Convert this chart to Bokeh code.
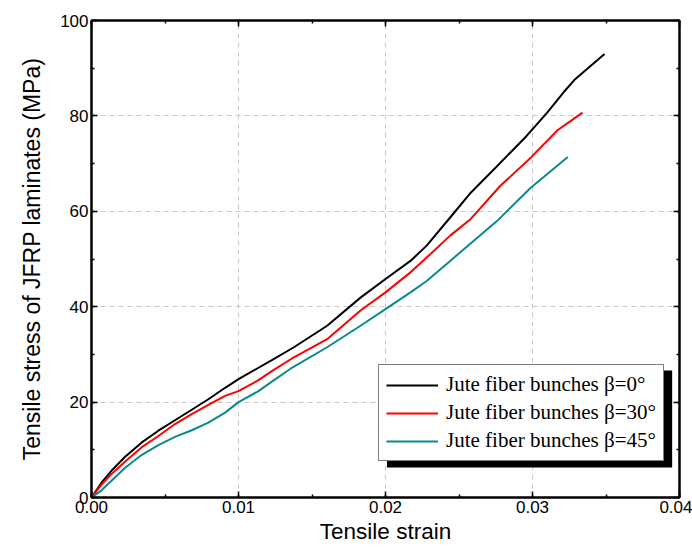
from bokeh.plotting import figure
from bokeh.models import (LinearAxis, SingleIntervalTicker, NumeralTickFormatter,
                          CustomJSTickFormatter, Legend, LegendItem, BoxAnnotation, Range1d)
from bokeh.embed import file_html
from bokeh.resources import INLINE

# Data
strain_0 = [0, 0.00068, 0.00136, 0.00227, 0.0034, 0.00455, 0.00568, 0.00682, 0.00795, 0.00909,
            0.0100, 0.01136, 0.01227, 0.01377, 0.01603, 0.0183, 0.0200, 0.0217, 0.0228, 0.0244,
            0.0258, 0.0276, 0.0296, 0.0310, 0.0321, 0.0329, 0.0349]
stress_0 = [0, 3.1, 5.6, 8.5, 11.5, 14.0, 16.2, 18.4, 20.6, 23.0,
            24.8, 27.2, 28.8, 31.5, 36.0, 41.9, 45.8, 49.6, 52.8, 58.7,
            63.9, 69.5, 75.8, 80.7, 84.9, 87.7, 93.0]

strain_30 = [0, 0.00068, 0.00136, 0.00227, 0.0034, 0.00455, 0.00568, 0.00682, 0.00795, 0.00909,
             0.0100, 0.01136, 0.01227, 0.01377, 0.01603, 0.0183, 0.0200, 0.0217, 0.0228, 0.0244,
             0.0258, 0.0278, 0.0299, 0.0317, 0.0334]
stress_30 = [0, 2.7, 4.9, 7.5, 10.5, 12.9, 15.4, 17.5, 19.4, 21.3,
             22.3, 24.6, 26.5, 29.4, 33.2, 39.2, 43.0, 47.2, 50.3, 54.9,
             58.4, 65.3, 71.3, 77.0, 80.7]

strain_45 = [0, 0.00068, 0.00136, 0.00227, 0.0034, 0.00455, 0.00568, 0.00682, 0.00795, 0.00909,
             0.0100, 0.01136, 0.01227, 0.01354, 0.01603, 0.0183, 0.0200, 0.0217, 0.0228, 0.0244,
             0.0276, 0.0299, 0.0324]
stress_45 = [0, 1.5, 3.5, 6.2, 8.9, 11.0, 12.7, 14.1, 15.7, 17.8,
             20.0, 22.3, 24.3, 27.0, 31.5, 36.0, 39.5, 43.0, 45.4, 49.6,
             58.0, 65.0, 71.4]

labels = ["Jute fiber bunches \u03b2=0\u00b0",
          "Jute fiber bunches \u03b2=30\u00b0",
          "Jute fiber bunches \u03b2=45\u00b0"]
colors = ["#000000", "#ff0000", "#0a8a8a"]

x_ticks_interval = 0.01
y_ticks_interval = 20

p = figure(width=692, height=547, output_backend="svg", toolbar_location=None,
           x_range=Range1d(0, 0.04), y_range=Range1d(0, 100),
           min_border_left=91, min_border_right=13, min_border_top=20, min_border_bottom=50)
p.xaxis.visible = False
p.yaxis.visible = False

font = "Liberation Sans"

def style_axis(ax, labels_on):
    ax.major_tick_in = 6
    ax.major_tick_out = 0
    ax.minor_tick_in = 3
    ax.minor_tick_out = 0
    ax.axis_line_width = 2
    ax.major_tick_line_width = 1.5
    ax.minor_tick_line_width = 1.5
    ax.axis_line_color = "black"
    ax.major_tick_line_color = "black"
    ax.minor_tick_line_color = "black"
    ax.major_label_text_font = font
    ax.major_label_text_color = "black"
    ax.axis_label_text_font = font
    ax.axis_label_text_font_style = "normal"
    ax.axis_label_text_color = "black"
    ax.axis_label_text_font_size = "22.5px"
    ax.major_label_text_font_size = "17px"
    if labels_on:
        ax.major_label_standoff = 3
    else:
        ax.formatter = CustomJSTickFormatter(code="return ''")
        ax.major_label_standoff = 0

xt = SingleIntervalTicker(interval=x_ticks_interval, num_minor_ticks=2)
yt = SingleIntervalTicker(interval=y_ticks_interval, num_minor_ticks=2)

xb = LinearAxis(ticker=xt, formatter=NumeralTickFormatter(format="0.00"), axis_label="Tensile strain")
style_axis(xb, True)
xb.axis_label_standoff = 3
p.add_layout(xb, "below")

yl = LinearAxis(ticker=yt, axis_label="Tensile stress of JFRP laminates (MPa)")
style_axis(yl, True)
yl.axis_label_text_font_size = "23px"
yl.axis_label_standoff = 12
p.add_layout(yl, "left")

xa = LinearAxis(ticker=xt)
style_axis(xa, False)
p.add_layout(xa, "above")
yr = LinearAxis(ticker=yt)
style_axis(yr, False)
p.add_layout(yr, "right")

p.xgrid.ticker = xt
p.ygrid.ticker = yt
for g in (p.xgrid, p.ygrid):
    g.grid_line_color = "#c8c8c8"
    g.grid_line_dash = "5 4"
    g.grid_line_width = 1

p.outline_line_color = "black"
p.outline_line_width = 2
p.background_fill_color = "white"
p.border_fill_color = "white"

r0 = p.line(strain_0, stress_0, line_color=colors[0], line_width=2)
r1 = p.line(strain_30, stress_30, line_color=colors[1], line_width=2)
r2 = p.line(strain_45, stress_45, line_color=colors[2], line_width=2)

shadow = BoxAnnotation(left=0.0201, right=0.0395, bottom=6.3, top=26.6,
                       fill_color="black", fill_alpha=1, line_alpha=0)
p.add_layout(shadow)

legend = Legend(items=[LegendItem(label=labels[0], renderers=[r0]),
                       LegendItem(label=labels[1], renderers=[r1]),
                       LegendItem(label=labels[2], renderers=[r2])],
                location=(287, 36))
legend.label_text_font = "Liberation Serif"
legend.label_text_font_size = "21px"
legend.label_text_color = "black"
legend.glyph_width = 52
legend.glyph_height = 20
legend.label_height = 20
legend.label_standoff = 8
legend.spacing = 3
legend.padding = 7
legend.margin = 0
legend.border_line_color = "black"
legend.border_line_width = 1
legend.background_fill_color = "white"
legend.background_fill_alpha = 1
p.add_layout(legend, "center")

open("out.html", "w").write(file_html(p, INLINE))
